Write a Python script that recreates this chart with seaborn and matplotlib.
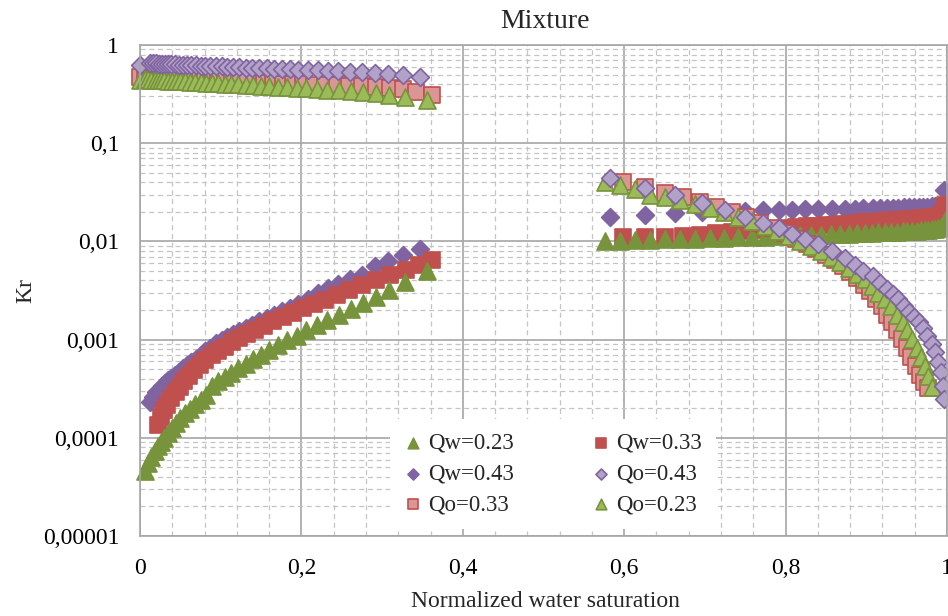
import numpy as np
import pandas as pd
import matplotlib
matplotlib.use("Agg")
import matplotlib.pyplot as plt
from matplotlib.ticker import FixedLocator, MultipleLocator, LogLocator, NullFormatter
import seaborn as sns

# ---------------- data ----------------
# Branch a (low saturation) and branch b (high saturation)
xa43 = [0.000, 0.012, 0.016, 0.020, 0.023, 0.027, 0.031, 0.035, 0.039, 0.043, 0.048, 0.053, 0.058, 0.063,
        0.069, 0.075, 0.081, 0.087, 0.094, 0.101, 0.108, 0.115, 0.123, 0.131, 0.139, 0.148, 0.157, 0.166,
        0.176, 0.186, 0.196, 0.208, 0.221, 0.233, 0.245, 0.260, 0.275, 0.291, 0.307, 0.326, 0.347]
qo43a = [0.63, 0.66, 0.655, 0.65, 0.648, 0.645, 0.642, 0.64, 0.637, 0.635, 0.632, 0.63, 0.627, 0.624,
         0.621, 0.618, 0.615, 0.612, 0.609, 0.605, 0.602, 0.598, 0.594, 0.59, 0.586, 0.582, 0.578, 0.574,
         0.57, 0.566, 0.562, 0.557, 0.552, 0.547, 0.542, 0.535, 0.528, 0.52, 0.512, 0.498, 0.476]
qw43a = [0.00023, 0.00026, 0.00029, 0.00031, 0.00034, 0.00036, 0.00039, 0.00041, 0.00044, 0.00047,
         0.00051, 0.00055, 0.00059, 0.00064, 0.00070, 0.00076, 0.00083, 0.00092, 0.00100, 0.00107,
         0.00114, 0.00122, 0.00131, 0.00142, 0.00153, 0.00166, 0.00180, 0.00196, 0.00212, 0.00232,
         0.00258, 0.00295, 0.00335, 0.0037, 0.0041, 0.0046, 0.0056, 0.0063, 0.0073, 0.0084]

xo33a = [0.000, 0.006, 0.010, 0.014, 0.018, 0.022, 0.026, 0.030, 0.034, 0.039, 0.044, 0.049, 0.055, 0.061,
         0.067, 0.074, 0.081, 0.089, 0.097, 0.105, 0.114, 0.123, 0.133, 0.143, 0.154, 0.165, 0.177, 0.189,
         0.202, 0.215, 0.229, 0.244, 0.259, 0.275, 0.292, 0.310, 0.326, 0.342, 0.362]
qo33a = [0.470, 0.468, 0.466, 0.464, 0.462, 0.460, 0.458, 0.456, 0.454, 0.452, 0.450, 0.448, 0.446, 0.443,
         0.441, 0.438, 0.435, 0.432, 0.429, 0.426, 0.423, 0.420, 0.417, 0.414, 0.411, 0.408, 0.405, 0.402,
         0.399, 0.396, 0.393, 0.389, 0.385, 0.380, 0.374, 0.367, 0.355, 0.335, 0.312]
xw33a = [0.022, 0.026, 0.030, 0.034, 0.039, 0.044, 0.049, 0.055, 0.061, 0.067, 0.074, 0.081, 0.089, 0.097,
         0.105, 0.114, 0.123, 0.133, 0.143, 0.154, 0.165, 0.177, 0.189, 0.202, 0.215, 0.229, 0.244, 0.259,
         0.275, 0.292, 0.310, 0.329, 0.346, 0.362]
qw33a = [0.000135, 0.000162, 0.000190, 0.000218, 0.000252, 0.000290, 0.000330, 0.000380, 0.000430,
         0.000485, 0.000550, 0.000615, 0.000690, 0.000765, 0.000845, 0.000935, 0.00103, 0.00114, 0.00126,
         0.00139, 0.00153, 0.00170, 0.00188, 0.00208, 0.00230, 0.00256, 0.00286, 0.00320, 0.00360,
         0.00405, 0.00455, 0.00510, 0.00575, 0.00640]

xa23 = [0.000, 0.006, 0.010, 0.014, 0.018, 0.022, 0.026, 0.030, 0.035, 0.040, 0.045, 0.050, 0.056, 0.062,
        0.068, 0.075, 0.082, 0.089, 0.097, 0.105, 0.113, 0.122, 0.131, 0.140, 0.150, 0.160, 0.171, 0.182,
        0.194, 0.206, 0.219, 0.232, 0.246, 0.261, 0.276, 0.292, 0.309, 0.328, 0.356]
qo23a = [0.440, 0.448, 0.446, 0.444, 0.442, 0.440, 0.438, 0.436, 0.434, 0.432, 0.430, 0.428, 0.425, 0.422,
         0.419, 0.416, 0.413, 0.410, 0.407, 0.404, 0.401, 0.398, 0.394, 0.390, 0.386, 0.382, 0.377, 0.372,
         0.367, 0.362, 0.357, 0.352, 0.346, 0.340, 0.333, 0.324, 0.312, 0.296, 0.276]
qw23a = [0.000046, 0.000055, 0.000064, 0.000073, 0.000082, 0.000091, 0.000100, 0.000113, 0.000127,
         0.000142, 0.000158, 0.000178, 0.000198, 0.000220, 0.000245, 0.000272, 0.000340, 0.000380,
         0.000420, 0.000460, 0.000510, 0.000570, 0.000630, 0.000700, 0.000780, 0.000880, 0.000980,
         0.00110, 0.00125, 0.00142, 0.00160, 0.00180, 0.00205, 0.00235, 0.00270, 0.00320, 0.00390, 0.00500]

xb43 = [0.582, 0.626, 0.663, 0.696, 0.725, 0.750, 0.772, 0.792, 0.808, 0.824, 0.840, 0.857, 0.874, 0.886,
        0.896, 0.908, 0.917, 0.926, 0.933, 0.939, 0.947, 0.953, 0.959, 0.965, 0.970, 0.975, 0.981, 0.985,
        0.989, 0.993, 0.995, 0.996]
qo43b = [0.0445, 0.0352, 0.0299, 0.0248, 0.0210, 0.0179, 0.0155, 0.0138, 0.0120, 0.0107, 0.0093, 0.0079,
         0.0067, 0.0058, 0.0050, 0.0044, 0.0038, 0.0033, 0.0029, 0.0026, 0.0022, 0.0019, 0.0017, 0.0015,
         0.0013, 0.00108, 0.00090, 0.00074, 0.00059, 0.00047, 0.00034, 0.00025]
qw43b = [0.0179, 0.0187, 0.0195, 0.0200, 0.0203, 0.0206, 0.0208, 0.0210, 0.0211, 0.0212, 0.0213, 0.0214,
         0.0215, 0.0216, 0.0217, 0.0218, 0.0219, 0.0220, 0.0221, 0.0221, 0.0222, 0.0223, 0.0223, 0.0224,
         0.0225, 0.0226, 0.0227, 0.0228, 0.0229, 0.0232, 0.0245, 0.0335]

xo33b = [0.598, 0.626, 0.651, 0.673, 0.694, 0.714, 0.733, 0.751, 0.768, 0.784, 0.799, 0.813, 0.826, 0.838,
         0.850, 0.861, 0.871, 0.880, 0.889, 0.897, 0.905, 0.912, 0.919, 0.926, 0.932, 0.938, 0.944, 0.950,
         0.956, 0.962, 0.967, 0.972, 0.976]
qo33b = [0.0405, 0.0360, 0.0310, 0.0280, 0.0250, 0.0222, 0.0198, 0.0176, 0.0155, 0.0137, 0.0121, 0.0107,
         0.0094, 0.0083, 0.0073, 0.0064, 0.0056, 0.0049, 0.0042, 0.0036, 0.0031, 0.0026, 0.0022, 0.0018,
         0.0015, 0.00125, 0.00102, 0.00083, 0.00067, 0.00054, 0.00044, 0.00037, 0.00032]
xw33b = [0.598, 0.626, 0.651, 0.673, 0.694, 0.714, 0.733, 0.751, 0.768, 0.784, 0.799, 0.813, 0.826, 0.838,
         0.850, 0.861, 0.871, 0.880, 0.889, 0.897, 0.905, 0.912, 0.919, 0.926, 0.932, 0.938, 0.944, 0.950,
         0.956, 0.962, 0.967, 0.972, 0.976, 0.981, 0.986, 0.990, 0.994, 0.998]
qw33b = [0.0110, 0.0110, 0.0111, 0.0113, 0.0117, 0.0122, 0.0126, 0.0129, 0.0132, 0.0135, 0.0138, 0.0140,
         0.0142, 0.0144, 0.0146, 0.0148, 0.0150, 0.0152, 0.0154, 0.0156, 0.0158, 0.0159, 0.0161, 0.0162,
         0.0164, 0.0165, 0.0166, 0.0168, 0.0169, 0.0170, 0.0172, 0.0173, 0.0174, 0.0176, 0.0178, 0.0181,
         0.0190, 0.0236]

xo23b = [0.576, 0.595, 0.613, 0.632, 0.651, 0.669, 0.688, 0.706, 0.724, 0.741, 0.758, 0.774, 0.789, 0.804,
         0.818, 0.831, 0.844, 0.856, 0.867, 0.878, 0.888, 0.898, 0.907, 0.915, 0.923, 0.931, 0.938, 0.945,
         0.951, 0.957, 0.963, 0.968, 0.973, 0.977, 0.981]
qo23b = [0.0405, 0.0378, 0.0340, 0.0300, 0.0285, 0.0265, 0.0240, 0.0218, 0.0197, 0.0178, 0.0160, 0.0143,
         0.0128, 0.0114, 0.0101, 0.0090, 0.0080, 0.0070, 0.0062, 0.0054, 0.0047, 0.0041, 0.0035, 0.0030,
         0.0026, 0.0022, 0.0018, 0.0015, 0.00124, 0.00102, 0.00083, 0.00067, 0.00054, 0.00043, 0.00033]
xw23b = [0.576, 0.595, 0.613, 0.632, 0.651, 0.669, 0.688, 0.706, 0.724, 0.741, 0.758, 0.774, 0.789, 0.804,
         0.818, 0.831, 0.844, 0.856, 0.867, 0.878, 0.888, 0.898, 0.907, 0.915, 0.923, 0.931, 0.938, 0.945,
         0.951, 0.957, 0.963, 0.968, 0.973, 0.977, 0.981, 0.985, 0.989, 0.993, 0.997]
qw23b = [0.0101, 0.0102, 0.0103, 0.0104, 0.0105, 0.0106, 0.0107, 0.0108, 0.0109, 0.0110, 0.0111, 0.0112,
         0.0113, 0.0114, 0.0115, 0.0116, 0.0117, 0.0118, 0.0119, 0.0120, 0.0121, 0.0122, 0.0123, 0.0124,
         0.0125, 0.0126, 0.0126, 0.0127, 0.0128, 0.0129, 0.0129, 0.0130, 0.0131, 0.0132, 0.0133, 0.0134,
         0.0136, 0.0140, 0.0162]

x_ticks = [0, 0.2, 0.4, 0.6, 0.8, 1.0]
x_tick_labels = ["0", "0,2", "0,4", "0,6", "0,8", "1"]
y_ticks = [1e-5, 1e-4, 1e-3, 1e-2, 1e-1, 1]
y_tick_labels = ["0,00001", "0,0001", "0,001", "0,01", "0,1", "1"]

series = {
    "Qw=0.23": (xa23[1:] + xw23b, qw23a + qw23b),
    "Qw=0.33": (xw33a + xw33b, qw33a + qw33b),
    "Qw=0.43": (xa43[1:] + xb43, qw43a + qw43b),
    "Qo=0.43": (xa43 + xb43, qo43a + qo43b),
    "Qo=0.33": (xo33a + xo33b, qo33a + qo33b),
    "Qo=0.23": (xa23 + xo23b, qo23a + qo23b),
}

rows = []
for name, (xs, ys) in series.items():
    for xv, yv in zip(xs, ys):
        rows.append((name, xv, yv))
df = pd.DataFrame(rows, columns=["series", "Sw", "Kr"])

# ---------------- styles ----------------
styles = {
    "Qw=0.43": dict(marker="D", s=82, color="#8064A2", edgecolor="#8064A2", z=3),
    "Qw=0.33": dict(marker="s", s=135, color="#C0504D", edgecolor="#C0504D", z=4),
    "Qw=0.23": dict(marker="^", s=150, color="#77933C", edgecolor="#77933C", z=5),
    "Qo=0.33": dict(marker="s", s=135, color="#DA9694", edgecolor="#C0504D", z=6),
    "Qo=0.23": dict(marker="^", s=150, color="#9BBB59", edgecolor="#77933C", z=7),
    "Qo=0.43": dict(marker="D", s=82, color="#B3A2C7", edgecolor="#8064A2", z=8),
}

sns.set_theme(style="white")
plt.rcParams["font.family"] = ["Liberation Serif", "DejaVu Serif"]

fig = plt.figure(figsize=(9.48, 6.16), dpi=100)
ax = fig.add_axes([140 / 948, 80 / 616, 807 / 948, 491 / 616])

handles = {}
for name in ["Qw=0.43", "Qw=0.33", "Qw=0.23", "Qo=0.33", "Qo=0.23", "Qo=0.43"]:
    st = styles[name]
    sub = df[df["series"] == name]
    sns.scatterplot(data=sub, x="Sw", y="Kr", marker=st["marker"], s=st["s"],
                    color=st["color"], edgecolor=st["edgecolor"], linewidth=1.2,
                    ax=ax, label=name, zorder=st["z"], clip_on=False)
    handles[name] = ax.collections[-1]

ax.set_yscale("log")
ax.set_xlim(0, 1)
ax.set_ylim(1e-5, 1)

ax.xaxis.set_major_locator(FixedLocator(x_ticks))
ax.set_xticklabels(x_tick_labels)
ax.xaxis.set_minor_locator(MultipleLocator(0.04))
ax.yaxis.set_major_locator(FixedLocator(y_ticks))
ax.set_yticklabels(y_tick_labels)
ax.yaxis.set_minor_locator(LogLocator(base=10, subs=np.arange(2, 10), numticks=20))
ax.yaxis.set_minor_formatter(NullFormatter())

ax.grid(which="major", color="#A6A6A6", linewidth=1.2, linestyle="-", zorder=0)
ax.grid(which="minor", color="#C4C4C4", linewidth=0.9, linestyle=(0, (4, 3)), zorder=0)
ax.set_axisbelow(True)
ax.tick_params(which="both", length=0)
ax.tick_params(axis="x", labelsize=17, pad=16, colors="#000000")
ax.tick_params(axis="y", labelsize=17, pad=15, colors="#000000")

for sp in ax.spines.values():
    sp.set_color("#A6A6A6")
    sp.set_linewidth(1.2)
    sp.set_zorder(30)

ax.set_xlabel("Normalized water saturation", fontsize=17)
ax.xaxis.set_label_coords((545 - 140) / 807, (536 - 591) / 491)
ax.set_ylabel("Kr", fontsize=17)
ax.yaxis.set_label_coords(-0.128, 0.5)

fig.text(545 / 948, 1 - 21 / 616, "Mixture", ha="center", va="center", fontsize=20)

order = ["Qw=0.23", "Qw=0.43", "Qo=0.33", "Qw=0.33", "Qo=0.43", "Qo=0.23"]
leg = ax.legend([handles[n] for n in order], order, ncol=2, loc="center",
                bbox_to_anchor=(553 / 948, 1 - 474 / 616), bbox_transform=fig.transFigure,
                fontsize=16.5, markerscale=0.62, handlelength=0.8, handletextpad=0.25,
                columnspacing=3.4, labelspacing=0.42, borderpad=0.6,
                frameon=True, fancybox=False, framealpha=1.0)
leg.get_frame().set_facecolor("white")
leg.get_frame().set_edgecolor("none")
leg.set_zorder(20)

fig.savefig("out.png", dpi=100)
